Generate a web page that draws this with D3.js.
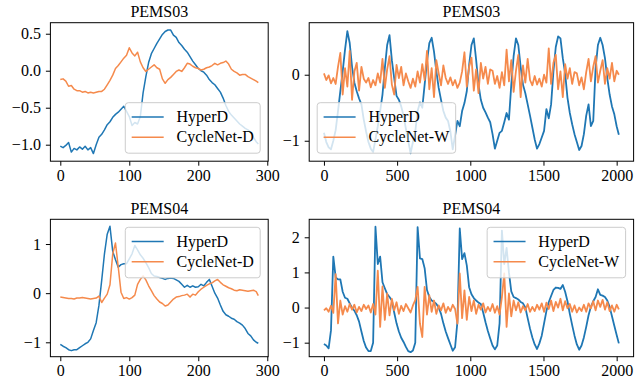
<!DOCTYPE html>
<html>
<head>
<meta charset="utf-8">
<script src="https://cdn.jsdelivr.net/npm/d3@7"></script>
<style>
  body { margin: 0; background: #fff; }
  text { font-family: "Liberation Serif", "Times New Roman", serif; }
</style>
</head>
<body>
<svg id="chart" width="643" height="386"></svg>
<script>
// one day = 288 steps (sampled every 4), one week = 2016 steps (sampled every 16)
const dayLast = 287, dayStep = 4;
const weekLast = 2015, weekStep = 16;

const pems03DayHyper = [-1.02,-1.04,-1.01,-0.97,-1.10,-1.05,-1.07,-1.03,-1.06,-1.02,
  -1.07,-1.04,-1.12,-1.00,-0.90,-0.86,-0.80,-0.73,-0.69,-0.63,
  -0.59,-0.56,-0.52,-0.48,-0.55,-0.62,-0.74,-0.70,-0.72,-0.62,
  -0.30,-0.08,0.11,0.23,0.30,0.37,0.43,0.49,0.53,0.55,
  0.55,0.48,0.45,0.38,0.34,0.29,0.25,0.19,0.13,0.08,
  0.03,0.00,-0.02,-0.06,-0.12,-0.16,-0.19,-0.24,-0.29,-0.37,
  -0.47,-0.55,-0.60,-0.64,-0.68,-0.72,-0.75,-0.78,-0.80,-0.83,
  -0.90,-0.96,-0.99];
const pems03DayCycle = [-0.12,-0.11,-0.14,-0.21,-0.20,-0.25,-0.27,-0.27,-0.29,-0.28,
  -0.30,-0.29,-0.30,-0.29,-0.28,-0.28,-0.25,-0.19,-0.13,-0.06,
  0.03,0.07,0.12,0.17,0.21,0.31,0.24,0.20,0.25,0.12,
  0.04,-0.01,0.02,0.05,0.08,0.04,0.02,-0.11,-0.17,-0.12,
  -0.09,-0.05,-0.01,0.01,-0.01,0.04,0.10,0.09,0.06,0.04,
  0.03,0.01,0.02,0.04,0.05,0.07,0.10,0.08,0.10,0.11,
  0.13,0.09,0.02,-0.01,-0.03,-0.06,-0.05,-0.05,-0.08,-0.10,
  -0.12,-0.14,-0.16];

const pems04DayHyper = [-1.04,-1.08,-1.11,-1.15,-1.17,-1.15,-1.15,-1.11,-1.07,-1.03,
  -1.00,-0.93,-0.76,-0.60,-0.25,0.26,0.80,1.20,1.36,0.85,
  0.68,0.53,0.58,0.60,0.60,0.70,0.80,0.97,0.88,0.78,
  0.71,0.62,0.52,0.40,0.35,0.34,0.32,0.30,0.28,0.30,
  0.31,0.30,0.27,0.24,0.18,0.12,0.16,0.12,0.15,0.12,
  0.13,0.18,0.15,0.22,0.28,0.14,0.00,-0.10,-0.24,-0.37,
  -0.44,-0.47,-0.51,-0.53,-0.58,-0.61,-0.65,-0.72,-0.82,-0.87,
  -0.95,-1.00,-1.02];
const pems04DayCycle = [-0.08,-0.09,-0.10,-0.11,-0.11,-0.12,-0.10,-0.10,-0.09,-0.10,
  -0.11,-0.12,-0.11,-0.10,-0.06,-0.19,-0.10,-0.02,0.17,0.80,
  1.02,0.53,0.02,-0.11,-0.09,-0.12,-0.09,-0.04,0.18,0.28,
  0.35,0.27,0.15,0.05,-0.05,-0.12,-0.18,-0.21,-0.26,-0.24,
  -0.18,-0.12,-0.08,-0.07,-0.05,-0.04,-0.02,-0.08,-0.02,-0.04,
  0.03,0.08,0.12,0.16,0.19,0.21,0.25,0.28,0.22,0.17,
  0.14,0.11,0.09,0.06,0.05,0.07,0.06,0.05,0.04,0.05,
  0.06,0.03,-0.05];

const pems03WeekHyper = [-0.88,-1.02,-1.10,-1.13,-1.00,-0.84,-0.55,-0.25,0.05,0.38,
  0.66,0.48,0.12,-0.12,-0.25,-0.36,-0.45,-0.68,-0.86,-1.02,
  -1.12,-1.17,-0.98,-0.78,-0.55,-0.30,0.10,0.45,0.60,0.22,
  -0.05,-0.32,-0.38,-0.48,-0.62,-0.82,-1.00,-1.19,-1.02,-0.86,
  -0.55,-0.42,-0.50,-0.15,0.20,0.48,0.56,0.35,0.05,-0.20,
  -0.38,-0.55,-0.65,-0.70,-0.86,-1.13,-0.92,-0.70,-0.78,-0.55,
  -0.43,-0.25,0.15,0.45,0.55,0.22,-0.15,-0.38,-0.50,-0.57,
  -0.65,-0.72,-0.90,-1.12,-1.00,-0.88,-0.85,-0.72,-0.58,-0.68,
  -0.15,0.28,0.55,0.45,0.12,-0.15,-0.28,-0.45,-0.62,-0.80,
  -0.98,-1.12,-1.05,-0.95,-0.85,-0.52,-0.66,-0.45,0.05,0.42,
  0.58,0.55,0.25,0.02,-0.35,-0.58,-0.75,-0.90,-1.02,-1.14,
  -1.08,-0.90,-0.62,-0.45,-0.78,-0.70,0.10,0.45,0.56,0.45,
  0.25,-0.05,-0.30,-0.48,-0.60,-0.78,-0.91];
const pems03WeekCycle = [0.02,-0.08,-0.01,-0.13,-0.05,-0.14,0.12,0.33,-0.30,0.10,-0.18,0.36,-0.38,0.05,0.18,-0.24,0.12,-0.06,
  -0.12,-0.05,-0.19,-0.08,-0.16,0.02,-0.12,0.24,-0.20,0.08,0.28,-0.15,-0.30,0.15,-0.05,0.12,-0.16,0.02,
  -0.10,-0.20,-0.06,-0.18,0.05,-0.12,0.16,-0.08,0.36,-0.22,0.10,-0.34,0.22,0.02,-0.16,0.14,-0.05,-0.14,
  -0.04,-0.16,-0.08,-0.20,-0.12,0.05,0.34,-0.18,0.12,0.26,-0.24,0.08,-0.28,0.18,-0.06,0.12,-0.14,0.08,
  0.06,-0.14,-0.02,-0.20,0.04,-0.16,0.38,-0.10,0.22,-0.26,0.06,0.30,-0.34,0.14,-0.12,0.24,-0.08,-0.16,
  -0.02,-0.15,-0.06,-0.18,0.00,-0.12,0.40,-0.14,0.18,0.30,-0.22,0.05,-0.34,0.16,-0.06,0.10,-0.14,0.04,
  0.02,-0.16,-0.04,-0.22,0.04,0.24,-0.10,0.12,0.28,-0.12,0.06,0.22,-0.14,0.10,-0.06,0.18,-0.10,0.06,
  0.00];

const pems04WeekHyper = [-1.04,-1.08,-1.16,-0.65,1.45,0.86,0.80,0.80,0.45,0.28,
  0.25,0.12,-0.01,-0.09,-0.22,-0.40,-0.68,-0.95,-1.14,-1.24,
  -1.24,-1.00,2.30,1.24,1.45,0.72,0.55,0.38,0.30,0.20,
  -0.14,-0.45,-0.68,-0.86,-0.98,-1.12,-1.24,-1.27,-1.22,-1.00,
  2.29,1.40,1.38,1.12,0.50,0.30,0.20,0.16,0.10,0.00,
  -0.18,-0.45,-0.68,-0.87,-1.05,-1.23,-1.13,-0.40,2.25,1.38,
  1.55,1.20,0.58,0.38,0.27,0.20,0.14,0.10,-0.14,-0.42,
  -0.67,-0.88,-1.08,-1.19,-1.08,-0.45,2.19,1.24,1.70,1.00,
  0.46,0.30,0.27,0.23,0.16,0.12,0.00,-0.30,-0.60,-0.85,
  -1.05,-1.18,-1.02,-0.80,-0.45,-0.10,0.15,0.33,0.50,0.57,
  0.56,0.53,0.64,0.45,0.18,-0.18,-0.50,-0.80,-1.05,-1.20,
  -1.08,-0.85,-0.55,-0.22,0.02,0.18,0.30,0.52,0.36,0.34,
  0.30,0.20,0.02,-0.25,-0.52,-0.78,-1.02];
const pems04WeekCycle = [-0.08,-0.02,-0.12,0.05,-0.15,0.95,-0.45,0.20,-0.20,0.04,
  -0.12,0.10,-0.06,0.08,-0.14,0.02,-0.10,0.08,-0.04,0.06,
  -0.14,0.10,-0.20,1.05,-0.55,0.60,-0.35,0.40,-0.22,0.25,
  -0.08,0.15,-0.18,0.05,-0.10,0.10,-0.02,-0.14,0.06,0.21,
  0.59,-0.46,-0.84,0.59,-0.20,0.35,-0.12,0.20,-0.18,0.06,
  -0.08,0.12,-0.15,0.02,-0.10,0.08,-0.04,-0.46,0.97,-0.30,
  0.49,-0.35,0.30,-0.10,0.20,-0.18,0.08,-0.06,0.12,-0.14,
  0.02,-0.10,0.10,-0.15,0.04,-0.20,0.30,0.97,-0.55,0.40,
  -0.25,0.20,-0.08,0.15,-0.14,0.04,-0.08,0.10,-0.12,0.02,
  -0.10,0.08,-0.06,0.12,-0.12,0.14,-0.04,0.20,-0.10,0.16,
  0.00,0.25,-0.08,0.18,-0.02,0.10,-0.12,0.06,-0.14,0.00,
  -0.10,0.08,-0.12,0.12,-0.02,0.18,-0.08,0.20,0.02,0.22,
  -0.06,0.15,-0.10,0.06,-0.12,0.08,-0.05];

const dayTicks = [0, 100, 200, 300];
const weekTicks = [0, 500, 1000, 1500, 2000];

const dayIndex = d3.range(0, dayLast, dayStep).concat([dayLast]);
const weekIndex = d3.range(0, weekLast, weekStep).concat([weekLast]);

const blue = '#1f77b4', orange = '#f58a4c';
const fontSize = 16;
const serif = '"Liberation Serif", "Times New Roman", serif';

const panels = [
  {title: 'PEMS03', t: dayIndex, hyper: pems03DayHyper, cycle: pems03DayCycle, cycleName: 'CycleNet-D',
   xDomain: [-14.35, 301.35], xTicks: dayTicks, yDomain: [-1.223, 0.649], yTicks: [-1, -0.5, 0, 0.5], yFormat: '.1f',
   box: {left: 50.4, right: 268.2, top: 22.7, bottom: 161.2}, legend: 'lower right', width: 1.5},
  {title: 'PEMS03', t: weekIndex, hyper: pems03WeekHyper, cycle: pems03WeekCycle, cycleName: 'CycleNet-W',
   xDomain: [-100.75, 2115.75], xTicks: weekTicks, yDomain: [-1.31, 0.788], yTicks: [-1, 0], yFormat: 'd',
   box: {left: 309.2, right: 633.6, top: 22.7, bottom: 161.2}, legend: 'lower left', width: 1.8},
  {title: 'PEMS04', t: dayIndex, hyper: pems04DayHyper, cycle: pems04DayCycle, cycleName: 'CycleNet-D',
   xDomain: [-14.35, 301.35], xTicks: dayTicks, yDomain: [-1.293, 1.503], yTicks: [-1, 0, 1], yFormat: 'd',
   box: {left: 50.4, right: 268.2, top: 219.3, bottom: 356.7}, legend: 'upper right', width: 1.5},
  {title: 'PEMS04', t: weekIndex, hyper: pems04WeekHyper, cycle: pems04WeekCycle, cycleName: 'CycleNet-W',
   xDomain: [-100.75, 2115.75], xTicks: weekTicks, yDomain: [-1.399, 2.512], yTicks: [-1, 0, 1, 2], yFormat: 'd',
   box: {left: 309.2, right: 633.6, top: 219.3, bottom: 356.7}, legend: 'upper right', width: 1.8}
];

const svg = d3.select('#chart');

panels.forEach(function (p, i) {
  const b = p.box;
  const x = d3.scaleLinear().domain(p.xDomain).range([b.left, b.right]);
  const y = d3.scaleLinear().domain(p.yDomain).range([b.bottom, b.top]);

  svg.append('clipPath').attr('id', 'clip' + i)
    .append('rect')
    .attr('x', b.left).attr('y', b.top)
    .attr('width', b.right - b.left).attr('height', b.bottom - b.top);

  const line = d3.line()
    .x(function (d) { return x(d[0]); })
    .y(function (d) { return y(d[1]); });

  const g = svg.append('g');
  const plot = g.append('g').attr('clip-path', 'url(#clip' + i + ')');

  [[p.hyper, blue], [p.cycle, orange]].forEach(function (s) {
    plot.append('path')
      .datum(p.t.map(function (t, k) { return [t, s[0][k]]; }))
      .attr('fill', 'none')
      .attr('stroke', s[1])
      .attr('stroke-width', p.width)
      .attr('stroke-linejoin', 'round')
      .attr('d', line);
  });

  // axes
  const xAxis = g.append('g')
    .attr('transform', 'translate(0,' + b.bottom + ')')
    .call(d3.axisBottom(x).tickValues(p.xTicks).tickFormat(d3.format('d')).tickSize(4.5).tickPadding(3.5));
  const yAxis = g.append('g')
    .attr('transform', 'translate(' + b.left + ',0)')
    .call(d3.axisLeft(y).tickValues(p.yTicks).tickFormat(d3.format(p.yFormat)).tickSize(4.5).tickPadding(5));
  [xAxis, yAxis].forEach(function (a) {
    a.attr('font-family', serif).attr('font-size', fontSize);
    a.select('.domain').remove();
    a.selectAll('line').attr('stroke', '#000').attr('stroke-width', 1);
    a.selectAll('text').attr('fill', '#000')
      .style('font-size', fontSize + 'px')
      .style('font-family', serif);
  });

  g.append('rect')
    .attr('x', b.left).attr('y', b.top)
    .attr('width', b.right - b.left).attr('height', b.bottom - b.top)
    .attr('fill', 'none').attr('stroke', '#000').attr('stroke-width', 1);

  g.append('text')
    .attr('x', (b.left + b.right) / 2)
    .attr('y', b.top - 5.5)
    .attr('text-anchor', 'middle')
    .style('font-size', fontSize + 'px')
    .text(p.title);

  // legend
  const lg = g.append('g');
  const frame = lg.append('rect');
  const labels = [['HyperD', blue], [p.cycleName, orange]];
  const pad = 0.4 * fontSize, handle = 2 * fontSize, gap = 0.8 * fontSize;
  let textW = 0;
  labels.forEach(function (l, k) {
    const row = lg.append('g');
    row.append('line')
      .attr('x1', pad).attr('x2', pad + handle)
      .attr('y1', 14.2 + k * 20.3).attr('y2', 14.2 + k * 20.3)
      .attr('stroke', l[1]).attr('stroke-width', 1.5);
    const t = row.append('text')
      .attr('x', pad + handle + gap)
      .attr('y', 14.2 + k * 20.3)
      .attr('dy', '0.32em')
      .style('font-size', fontSize + 'px')
      .text(l[0]);
    textW = Math.max(textW, t.node().getComputedTextLength());
  });
  const lw = pad + handle + gap + textW + pad, lh = 50.5;
  frame.attr('width', lw).attr('height', lh)
    .attr('rx', 3).attr('ry', 3)
    .attr('fill', '#fff').attr('fill-opacity', 0.8)
    .attr('stroke', '#cccccc').attr('stroke-width', 1);
  const inset = 8;
  let lx, ly;
  if (p.legend === 'lower right') { lx = b.right - inset - lw; ly = b.bottom - inset - lh; }
  else if (p.legend === 'lower left') { lx = b.left + inset; ly = b.bottom - inset - lh; }
  else { lx = b.right - inset - lw; ly = b.top + inset; }
  lg.attr('transform', 'translate(' + lx + ',' + ly + ')');
});
</script>
</body>
</html>
